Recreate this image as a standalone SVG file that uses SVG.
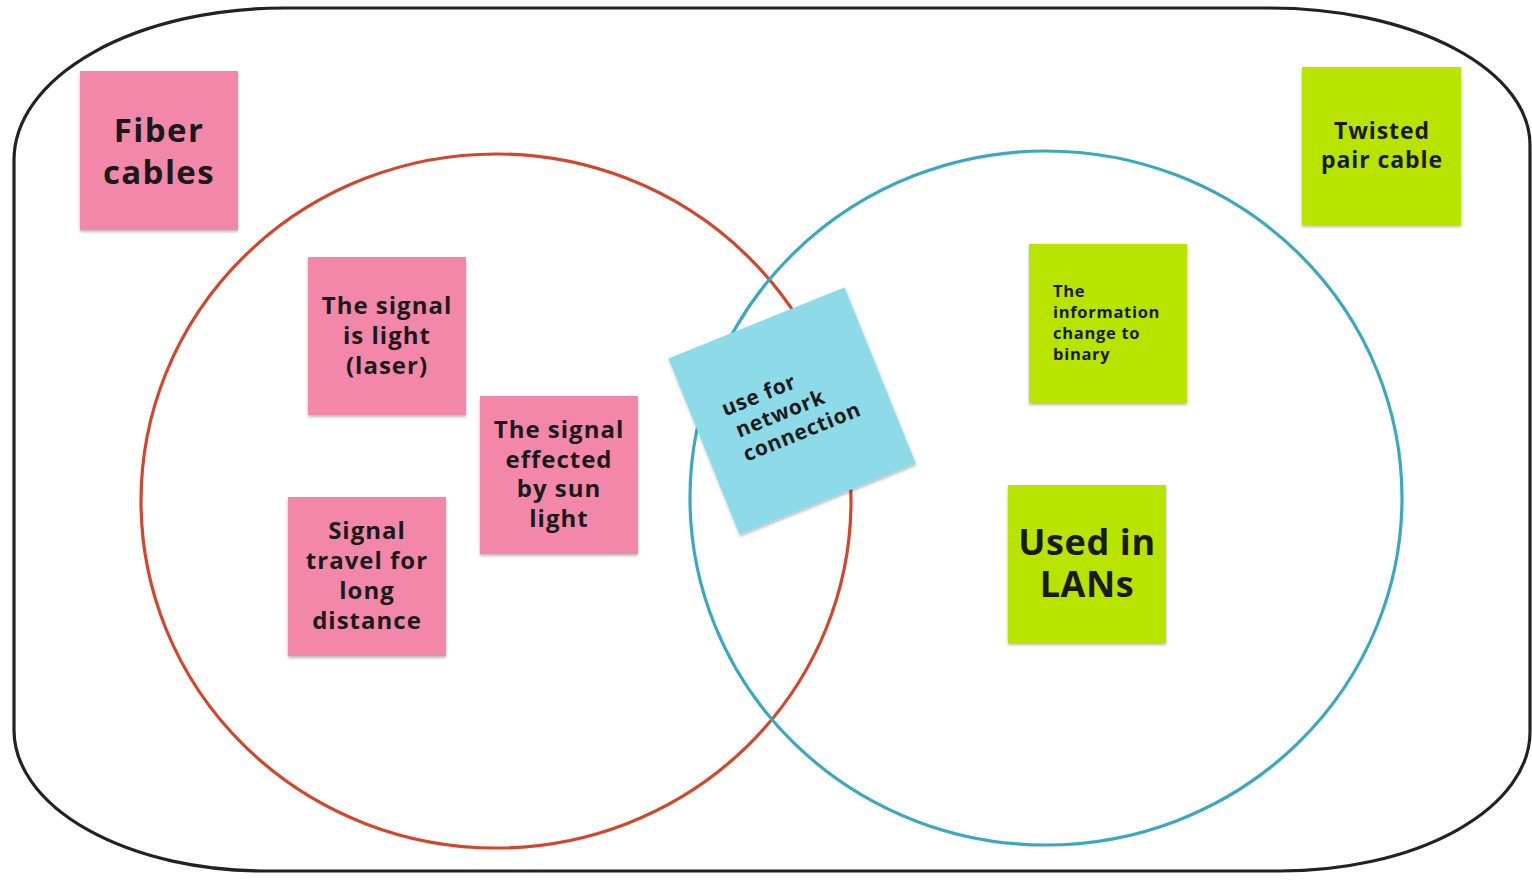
<svg xmlns="http://www.w3.org/2000/svg" width="1532" height="889" viewBox="0 0 1532 889">
  <style>
    .note text { font-family: "Open Sans", "DejaVu Sans", sans-serif; font-weight: 700; fill: #1a1a1a; }
    .c { text-anchor: middle; }
    .pink { fill: #f387a9; }
    .green { fill: #b8e400; }
    .cyan { fill: #8ddbe8; }
  </style>
  <defs>
    <filter id="sh" x="-10%" y="-10%" width="120%" height="125%">
      <feDropShadow dx="0" dy="2" stdDeviation="1.5" flood-color="#000" flood-opacity="0.28"/>
    </filter>
  </defs>
  <rect width="1532" height="889" fill="#ffffff"/>
  <g id="frame">
    <path d="M 14 160 A 270 152 0 0 1 284 8 L 1270 8 A 260 137 0 0 1 1530 145 L 1530 732 A 250 139 0 0 1 1280 871 L 265 871 A 251 141 0 0 1 14 730 Z" fill="none" stroke="#222" stroke-width="3.2"/>
  </g>
  <g id="connectors">
    <ellipse id="fiber-circle" cx="496" cy="501" rx="355" ry="347" fill="none" stroke="#d5452b" stroke-width="3.2"/>
    <ellipse id="twisted-circle" cx="1046" cy="498" rx="356" ry="347" fill="none" stroke="#3aa8c1" stroke-width="3.2"/>
  </g>
  <g id="fiber-cables" class="note">
    <rect class="pink" x="80" y="71" width="158" height="159" filter="url(#sh)"/>
    <text class="c" x="159" y="142" font-size="33" letter-spacing="1.4">Fiber</text>
    <text class="c" x="159" y="184" font-size="33" letter-spacing="1.4">cables</text>
  </g>
  <g id="twisted-pair" class="note">
    <rect class="green" x="1302" y="67" width="159" height="158" filter="url(#sh)"/>
    <text class="c" x="1382" y="139" font-size="23" letter-spacing="0.9">Twisted</text>
    <text class="c" x="1382" y="168" font-size="23" letter-spacing="0.9">pair cable</text>
  </g>
  <g id="signal-light" class="note">
    <rect class="pink" x="308" y="257" width="158" height="158" filter="url(#sh)"/>
    <text class="c" x="387" y="314" font-size="24" letter-spacing="1">The signal</text>
    <text class="c" x="387" y="344" font-size="24" letter-spacing="1">is light</text>
    <text class="c" x="387" y="374" font-size="24" letter-spacing="1">(laser)</text>
  </g>
  <g id="signal-sun" class="note">
    <rect class="pink" x="480" y="396" width="158" height="158" filter="url(#sh)"/>
    <text class="c" x="559" y="438" font-size="24" letter-spacing="1">The signal</text>
    <text class="c" x="559" y="468" font-size="24" letter-spacing="1">effected</text>
    <text class="c" x="559" y="497" font-size="24" letter-spacing="1">by sun</text>
    <text class="c" x="559" y="527" font-size="24" letter-spacing="1">light</text>
  </g>
  <g id="signal-distance" class="note">
    <rect class="pink" x="288" y="497" width="158" height="159" filter="url(#sh)"/>
    <text class="c" x="367" y="539" font-size="24" letter-spacing="1">Signal</text>
    <text class="c" x="367" y="569" font-size="24" letter-spacing="1">travel for</text>
    <text class="c" x="367" y="599" font-size="24" letter-spacing="1">long</text>
    <text class="c" x="367" y="629" font-size="24" letter-spacing="1">distance</text>
  </g>
  <g id="binary" class="note">
    <rect class="green" x="1029" y="244" width="158" height="159" filter="url(#sh)"/>
    <text x="1053" y="297" font-size="16.5" letter-spacing="0.7">The</text>
    <text x="1053" y="318" font-size="16.5" letter-spacing="0.7">information</text>
    <text x="1053" y="339" font-size="16.5" letter-spacing="0.7">change to</text>
    <text x="1053" y="360" font-size="16.5" letter-spacing="0.7">binary</text>
  </g>
  <g id="lans" class="note">
    <rect class="green" x="1008" y="485" width="158" height="158" filter="url(#sh)"/>
    <text class="c" x="1087" y="555" font-size="36" letter-spacing="0.6">Used in</text>
    <text class="c" x="1087" y="597" font-size="36" letter-spacing="0.6">LANs</text>
  </g>
  <g id="network-connection" class="note" transform="translate(792 411) rotate(-22)">
    <rect class="cyan" x="-95" y="-95" width="190" height="190" filter="url(#sh)"/>
    <text x="-64" y="-20" font-size="21" letter-spacing="0.8">use for</text>
    <text x="-59" y="5" font-size="21" letter-spacing="0.8">network</text>
    <text x="-61" y="30" font-size="21" letter-spacing="0.8">connection</text>
  </g>
</svg>
